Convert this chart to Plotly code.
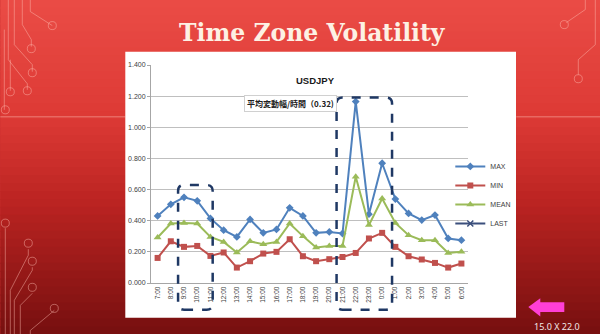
import plotly.graph_objects as go

# ---------------- data ----------------
hours = ["7:00", "8:00", "9:00", "10:00", "11:00", "12:00", "13:00", "14:00",
         "15:00", "16:00", "17:00", "18:00", "19:00", "20:00", "21:00", "22:00",
         "23:00", "0:00", "1:00", "2:00", "3:00", "4:00", "5:00", "6:00"]
max_vals = [0.431, 0.505, 0.550, 0.528, 0.415, 0.339, 0.296, 0.408,
            0.322, 0.344, 0.483, 0.431, 0.322, 0.328, 0.318, 1.165,
            0.442, 0.769, 0.539, 0.447, 0.404, 0.436, 0.286, 0.275]
min_vals = [0.161, 0.268, 0.232, 0.238, 0.174, 0.196, 0.099, 0.140,
            0.189, 0.200, 0.281, 0.172, 0.140, 0.153, 0.167, 0.193,
            0.286, 0.322, 0.232, 0.172, 0.151, 0.129, 0.099, 0.125]
mean_vals = [0.292, 0.382, 0.386, 0.382, 0.296, 0.264, 0.196, 0.268,
             0.249, 0.264, 0.382, 0.301, 0.228, 0.238, 0.238, 0.683,
             0.372, 0.543, 0.386, 0.307, 0.275, 0.275, 0.193, 0.200]
# LAST series has no visible points in the chart
last_vals = [None, None, None, None, None, None, None, None,
             None, None, None, None, None, None, None, None,
             None, None, None, None, None, None, None, None]
y_ticks = [0.0, 0.2, 0.4, 0.6, 0.8, 1.0, 1.2, 1.4]
highlight_ranges = [(1.55, 4.17), (13.55, 17.75)]  # in category-index units

# ---------------- geometry helpers (pixel -> paper) ----------------
FW, FH = 600, 334
L, R, T, B = 150.7, 467.7, 65.3, 282.7
W, H = R - L, B - T


def PX(x):
    return (x - L) / W


def PY(y):
    return (B - y) / H


idx = list(range(len(hours)))

fig = go.Figure()
fig.add_trace(go.Scatter(x=idx, y=max_vals, name="MAX", mode="lines+markers",
                         line=dict(color="#4f81bd", width=2),
                         marker=dict(symbol="diamond", size=6, color="#4f81bd")))
fig.add_trace(go.Scatter(x=idx, y=min_vals, name="MIN", mode="lines+markers",
                         line=dict(color="#c0504d", width=2),
                         marker=dict(symbol="square", size=6, color="#c0504d")))
fig.add_trace(go.Scatter(x=idx, y=mean_vals, name="MEAN", mode="lines+markers",
                         line=dict(color="#9bbb59", width=2),
                         marker=dict(symbol="triangle-up", size=7, color="#9bbb59")))
fig.add_trace(go.Scatter(x=idx, y=last_vals, name="LAST",
                         mode="lines+markers",
                         line=dict(color="#3b4f7c", width=2),
                         marker=dict(symbol="x-thin", size=6, color="#3b4f7c",
                                     line=dict(color="#3b4f7c", width=1.5))))

shapes = []
# background gradient
stops = [(0.0, (234, 76, 70)), (0.35, (221, 58, 53)), (0.6, (188, 36, 34)), (1.0, (118, 15, 15))]


def col_at(t):
    for (t0, c0), (t1, c1) in zip(stops[:-1], stops[1:]):
        if t0 <= t <= t1:
            f = (t - t0) / (t1 - t0)
            return "rgb(%d,%d,%d)" % tuple(round(a + (b - a) * f) for a, b in zip(c0, c1))
    return "rgb(%d,%d,%d)" % stops[-1][1]


nb = 42
for i in range(nb):
    y0 = FH * i / nb
    y1 = FH * (i + 1) / nb + 1
    shapes.append(dict(type="rect", xref="paper", yref="paper", layer="below",
                       x0=PX(0), x1=PX(FW), y0=PY(y0), y1=PY(y1),
                       line=dict(width=0), fillcolor=col_at((i + 0.5) / nb)))

# decorative circuit lines
deco = "rgba(255,190,180,0.45)"
paths_px = [
    [(30, 0), (30, 12), (52, 26)],
    [(22, 0), (22, 25), (31, 40), (31, 47)],
    [(14, 0), (14, 45), (32, 65), (32, 72)],
    [(8, 0), (8, 60), (27, 84), (27, 90)],
    [(4, 30), (4, 110)],
    [(10, 60), (10, 91)],
    [(5, 228), (5, 334)],
    [(10, 334), (10, 290), (28, 255), (28, 249)],
    [(14, 334), (14, 300), (32, 270), (32, 267)],
    [(20, 334), (20, 305), (32, 293)],
    [(30, 334), (30, 330), (54, 310)],
    [(585, 0), (585, 10), (566, 23)],
    [(595, 0), (595, 45), (578, 60), (578, 75)],
]
for pts in paths_px:
    p = "M " + " L ".join("%f,%f" % (PX(x), PY(y)) for x, y in pts)
    shapes.append(dict(type="path", xref="paper", yref="paper", layer="below",
                       path=p, line=dict(color=deco, width=1)))
for cx, cy in [(52, 26), (31, 49), (32, 73), (27, 91), (10, 92), (5, 110), (5, 223),
               (28, 243), (32, 261), (32, 287), (54, 308), (564, 25), (578, 79)]:
    r = 4
    shapes.append(dict(type="circle", xref="paper", yref="paper", layer="below",
                       x0=PX(cx - r), x1=PX(cx + r), y0=PY(cy - r), y1=PY(cy + r),
                       line=dict(color=deco, width=1)))
# separator lines
for xa, xb in [(0, 125), (516, 600)]:
    shapes.append(dict(type="line", xref="paper", yref="paper", layer="below",
                       x0=PX(xa), x1=PX(xb), y0=PY(117), y1=PY(117),
                       line=dict(color="rgba(255,200,190,0.5)", width=1)))

# white chart panel
shapes.append(dict(type="rect", xref="paper", yref="paper", layer="below",
                   x0=PX(125), x1=PX(515.7), y0=PY(317.3), y1=PY(52),
                   line=dict(width=0), fillcolor="white"))


# dashed rounded highlight boxes
def rounded(x0, x1, y0, y1, rx, ry):
    return (f"M {x0+rx},{y0} L {x1-rx},{y0} Q {x1},{y0} {x1},{y0+ry} "
            f"L {x1},{y1-ry} Q {x1},{y1} {x1-rx},{y1} L {x0+rx},{y1} "
            f"Q {x0},{y1} {x0},{y1-ry} L {x0},{y0+ry} Q {x0},{y0} {x0+rx},{y0} Z")


def cat_paper(c):
    return (c + 0.5) / len(hours)


box_tops = [PY(185), PY(97.7)]
for (c0, c1), top in zip(highlight_ranges, box_tops):
    shapes.append(dict(type="path", xref="paper", yref="paper", layer="above",
                       path=rounded(cat_paper(c0), cat_paper(c1), PY(309.3), top,
                                    6 / W, 6 / H),
                       line=dict(color="#1f3864", width=2.5, dash="dash")))

# pink arrow
arrow = [(528, 306.7), (540, 298), (540, 302), (564, 302), (564, 311.5),
         (540, 311.5), (540, 316)]
shapes.append(dict(type="path", xref="paper", yref="paper", layer="above",
                   path="M " + " L ".join("%f,%f" % (PX(x), PY(y)) for x, y in arrow) + " Z",
                   line=dict(width=0), fillcolor="#ff3fd6"))

annotations = [
    dict(text="<b>Time Zone Volatility</b>", xref="paper", yref="paper",
         x=PX(312), y=PY(33), xanchor="center", yanchor="middle", showarrow=False,
         font=dict(family="DejaVu Serif", size=23.5, color="#fdf1e4")),
    dict(text="<b>USDJPY</b>", xref="paper", yref="paper",
         x=PX(315), y=PY(81), xanchor="center", yanchor="middle", showarrow=False,
         font=dict(family="Liberation Sans", size=9.5, color="#1a1a1a")),
    dict(text="<b>平均変動幅/時間（0.32)</b>", xref="paper", yref="paper",
         x=PX(290.5), y=PY(103.5), xanchor="center", yanchor="middle", showarrow=False,
         font=dict(family="Noto Sans CJK JP", size=8, color="#202020"),
         bgcolor="white", bordercolor="#d0d0d0", borderwidth=1, borderpad=2),
    dict(text="15.0 X 22.0", xref="paper", yref="paper",
         x=PX(557), y=PY(326), xanchor="center", yanchor="middle", showarrow=False,
         font=dict(family="Noto Sans", size=9, color="#f2e6e6")),
]

fig.update_layout(
    width=FW, height=FH, autosize=False,
    margin=dict(l=L, r=FW - R, t=T, b=FH - B, pad=0),
    paper_bgcolor="#c83030", plot_bgcolor="rgba(0,0,0,0)",
    shapes=shapes, annotations=annotations,
    showlegend=True,
    legend=dict(x=PX(450), y=PY(152), xanchor="left", yanchor="top",
                font=dict(family="Liberation Sans", size=7, color="#404040"),
                bgcolor="rgba(0,0,0,0)", itemwidth=30, tracegroupgap=0),
    xaxis=dict(range=[-0.5, len(hours) - 0.5], tickmode="array", tickvals=idx,
               ticktext=hours, tickangle=-90, showgrid=False, zeroline=False,
               showline=True, linecolor="#a6a6a6", linewidth=1, ticks="",
               tickfont=dict(family="Liberation Sans", size=6.5, color="#404040")),
    yaxis=dict(range=[0, 1.4], tickmode="array", tickvals=y_ticks,
               ticktext=["%.3f" % v for v in y_ticks],
               showgrid=True, gridcolor="#bfbfbf", gridwidth=1, zeroline=False,
               showline=True, linecolor="#a6a6a6", linewidth=1,
               ticks="outside", ticklen=3, tickcolor="#a6a6a6",
               tickfont=dict(family="Liberation Sans", size=7, color="#404040")),
)

fig.write_html("out.html")
